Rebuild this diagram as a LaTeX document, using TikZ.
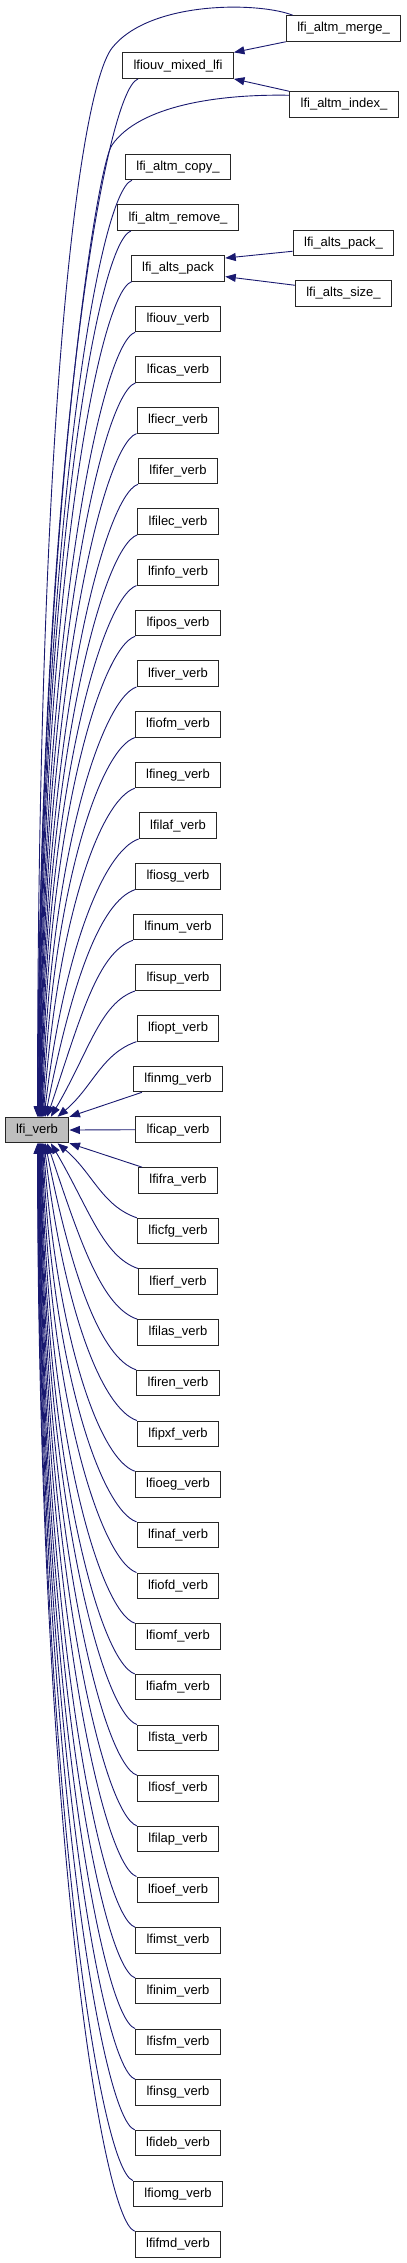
\documentclass[tikz,border=0pt]{standalone}
\usepackage{fontspec}
\setmainfont{Liberation Sans}[Ligatures=NoCommon]
\usetikzlibrary{arrows.meta,calc}
\definecolor{edgeblue}{HTML}{191970}
\definecolor{rootgray}{HTML}{BFBFBF}
\tikzset{
  box/.style={draw=black!85, line width=1pt, fill=white, minimum height=25.5pt,
    inner xsep=11pt, inner ysep=0pt, font=\fontsize{13pt}{15pt}\selectfont},
  calledge/.style={draw=edgeblue, line width=0.9pt, {Triangle[length=10.5pt,width=8pt]}-},
}
% upper caller: name, rank distance n, shift of start along bottom edge
\newcommand\upedge[3]{%
  \pgfmathsetmacro\etx{33+0.35*(22-#2)+13*exp(-(#2-2)/1.5)}%
  \pgfmathsetmacro\eth{90-50*exp(-(#2-2)/2)}%
  \pgfmathsetmacro\eL{0.6*(#2*50.67-25)}%
  \pgfmathsetmacro\ecx{\eL*cos(\eth)}%
  \pgfmathsetmacro\ecy{\eL*sin(\eth)}%
  \draw[calledge] ($(verb.north west)+(\etx,0)$) .. controls ($(verb.north west)+(\etx+\ecx,-\ecy)$) and ($(#1.south west)+(#3-35,12)$) .. ($(#1.south west)+(#3,0)$);
}
\newcommand\downedge[3]{%
  \pgfmathsetmacro\etx{33+0.35*(22-#2)+13*exp(-(#2-2)/1.5)}%
  \pgfmathsetmacro\eth{90-50*exp(-(#2-2)/2)}%
  \pgfmathsetmacro\eL{0.6*(#2*50.67-25)}%
  \pgfmathsetmacro\ecx{\eL*cos(\eth)}%
  \pgfmathsetmacro\ecy{\eL*sin(\eth)}%
  \draw[calledge] ($(verb.south west)+(\etx,0)$) .. controls ($(verb.south west)+(\etx+\ecx,\ecy)$) and ($(#1.north west)+(#3-35,-12)$) .. ($(#1.north west)+(#3,0)$);
}
\begin{document}
\begin{tikzpicture}[x=1pt,y=-1pt]
\useasboundingbox (0,0) rectangle (407,2263);
% root
\node[box, fill=rootgray] (verb) at (37,1130) {lfi\_verb};
% top group
\node[box] (mixed) at (178,65.65) {lfiouv\_mixed\_lfi};
\node[box] (merge) at (343.5,28.5) {lfi\_altm\_merge\_};
\node[box] (index) at (344,104.5) {lfi\_altm\_index\_};
\node[box] (altspk) at (343.5,243) {lfi\_alts\_pack\_};
\node[box] (altssz) at (343.5,293.5) {lfi\_alts\_size\_};
% column of callers
\foreach \i/\nm/\lb in {
  2/copy/lfi\_altm\_copy\_, 3/remove/lfi\_altm\_remove\_, 4/pack/lfi\_alts\_pack,
  5/ouv/lfiouv\_verb, 6/cas/lficas\_verb, 7/ecr/lfiecr\_verb, 8/fer/lfifer\_verb,
  9/lec/lfilec\_verb, 10/info/lfinfo\_verb, 11/pos/lfipos\_verb, 12/ver/lfiver\_verb,
  13/ofm/lfiofm\_verb, 14/neg/lfineg\_verb, 15/laf/lfilaf\_verb, 16/osg/lfiosg\_verb,
  17/num/lfinum\_verb, 18/sup/lfisup\_verb, 19/opt/lfiopt\_verb, 20/nmg/lfinmg\_verb,
  21/cap/lficap\_verb, 22/fra/lfifra\_verb, 23/cfg/lficfg\_verb, 24/erf/lfierf\_verb,
  25/las/lfilas\_verb, 26/ren/lfiren\_verb, 27/pxf/lfipxf\_verb, 28/oeg/lfioeg\_verb,
  29/naf/lfinaf\_verb, 30/ofd/lfiofd\_verb, 31/omf/lfiomf\_verb, 32/afm/lfiafm\_verb,
  33/sta/lfista\_verb, 34/osf/lfiosf\_verb, 35/lap/lfilap\_verb, 36/oef/lfioef\_verb,
  37/mst/lfimst\_verb, 38/nim/lfinim\_verb, 39/sfm/lfisfm\_verb, 40/nsg/lfinsg\_verb,
  41/deb/lfideb\_verb, 42/omg/lfiomg\_verb, 43/fmd/lfifmd\_verb}
  \node[box] (\nm) at (178,{319+(\i-5)*50.67}) {\lb};
% edges among top group
\draw[calledge] (mixed.north east) -- (merge.south west);
\draw[calledge] (mixed.south east) -- (index.north west);
\draw[calledge] ($(pack.north east)+(0,3)$) -- ($(altspk.south west)+(0,-5)$);
\draw[calledge] ($(pack.south east)+(0,-5)$) -- ($(altssz.north west)+(0,5)$);
% long edges from the top right nodes
\draw[calledge] ($(verb.north west)+(33,0)$) .. controls ($(verb.north west)+(33,-717)$) and (80,90) .. (112,48) .. controls (150,0) and (260,2) .. ($(merge.north west)+(7,0)$);
\draw[calledge] ($(verb.north west)+(33.6,0)$) .. controls ($(verb.north west)+(33.6,-567)$) and (95,170) .. (112,145) .. controls (140,105) and (220,94) .. ($(index.north west)+(0,4)$);
% upper callers
\upedge{mixed}{21}{16}
\foreach \nm/\n/\dx in {copy/19/7, remove/18/14, pack/17/1, ouv/16/0, cas/15/0,
  ecr/14/0, fer/13/0, lec/12/0, info/11/0, pos/10/0, ver/9/0, ofm/8/0, neg/7/0,
  laf/6/0, osg/5/0, num/4/0, sup/3/0, opt/2/0}
  {\upedge{\nm}{\n}{\dx}}
% nearest callers
\draw[calledge] (verb.north east) -- ($(nmg.south west)+(9,0)$);
\draw[calledge] (verb.east) -- (cap.west);
\draw[calledge] (verb.south east) -- ($(fra.north west)+(4,0)$);
% lower callers
\foreach \nm/\n in {cfg/2, erf/3, las/4, ren/5, pxf/6, oeg/7, naf/8, ofd/9, omf/10,
  afm/11, sta/12, osf/13, lap/14, oef/15, mst/16, nim/17, sfm/18, nsg/19, deb/20,
  omg/21, fmd/22}
  {\downedge{\nm}{\n}{0}}
\end{tikzpicture}
\end{document}
